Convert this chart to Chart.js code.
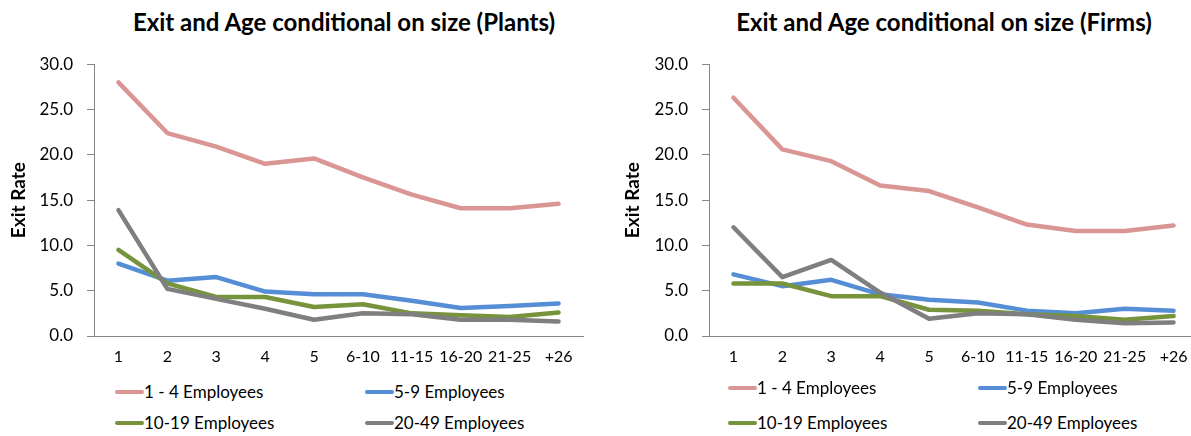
<!DOCTYPE html>
<html lang="en">
<head>
  <meta charset="UTF-8">
  <title>Exit and Age conditional on size</title>
  <script src="https://cdn.jsdelivr.net/npm/chart.js"></script>
  <style>
    html, body {
      margin: 0;
      padding: 0;
      background: #fff;
      width: 1191px;
      height: 436px;
      overflow: hidden;
      font-family: Lato, "Liberation Sans", sans-serif;
      color: #000;
    }
    .title {
      position: absolute;
      top: 0;
      height: 44px;
      line-height: 44px;
      font-weight: bold;
      font-size: 24px;
      white-space: nowrap;
      transform: translateX(-50%);
    }
    .box {
      position: absolute;
      top: 40px;
      height: 340px;
    }
    .legend-item {
      position: absolute;
      font-size: 17px;
      white-space: nowrap;
      line-height: 20px;
      transform: translateY(-50%);
      display: flex;
      align-items: center;
    }
    .legend-item i {
      display: inline-block;
      width: 29px;
      height: 4px;
      border-radius: 2px;
    }
  </style>
</head>
<body>
  <div class="title" style="left:344px">Exit and Age conditional on size (Plants)</div>
  <div class="title" style="left:944px">Exit and Age conditional on size (Firms)</div>

  <div class="box" style="left:0; width:600px"><canvas id="plantsChart"></canvas></div>
  <div class="box" style="left:600px; width:620px"><canvas id="firmsChart"></canvas></div>

  <div id="plantsLegend"></div>
  <div id="firmsLegend"></div>

  <script>
    // data
    const ageLabels = ['1', '2', '3', '4', '5', '6-10', '11-15', '16-20', '21-25', '+26'];
    const seriesNames = ['1 - 4 Employees', '5-9 Employees', '10-19 Employees', '20-49 Employees'];
    const seriesColors = ['#DA9694', '#558ED5', '#77933C', '#7F7F7F'];

    const plants1to4   = [28.0, 22.4, 20.9, 19.0, 19.6, 17.5, 15.6, 14.1, 14.1, 14.6];
    const plants5to9   = [8.0, 6.1, 6.5, 4.9, 4.6, 4.6, 3.9, 3.1, 3.3, 3.6];
    const plants10to19 = [9.5, 5.8, 4.3, 4.3, 3.2, 3.5, 2.5, 2.3, 2.1, 2.6];
    const plants20to49 = [13.9, 5.2, 4.1, 3.0, 1.8, 2.5, 2.4, 1.8, 1.8, 1.6];

    const firms1to4   = [26.3, 20.6, 19.3, 16.6, 16.0, 14.2, 12.3, 11.6, 11.6, 12.2];
    const firms5to9   = [6.8, 5.5, 6.2, 4.6, 4.0, 3.7, 2.8, 2.5, 3.0, 2.8];
    const firms10to19 = [5.8, 5.8, 4.4, 4.4, 2.9, 2.8, 2.4, 2.2, 1.8, 2.2];
    const firms20to49 = [12.0, 6.5, 8.4, 4.8, 1.9, 2.5, 2.4, 1.8, 1.4, 1.5];

    const yMin = 0, yMax = 30, yStep = 5;

    function makeChart(id, series, opts) {
      const datasets = series.map((vals, i) => ({
        label: seriesNames[i],
        data: vals,
        borderColor: seriesColors[i],
        backgroundColor: seriesColors[i],
        borderWidth: 4.5,
        pointRadius: 0,
        tension: 0,
        fill: false,
        borderCapStyle: 'round',
        borderJoinStyle: 'round',
        order: series.length - 1 - i
      }));
      return new Chart(document.getElementById(id), {
        type: 'line',
        data: { labels: ageLabels, datasets: datasets },
        options: {
          responsive: true,
          maintainAspectRatio: false,
          animation: false,
          layout: { padding: { top: 16, right: opts.padRight, left: 0, bottom: 0 } },
          plugins: { legend: { display: false }, tooltip: { enabled: false } },
          scales: {
            x: {
              offset: true,
              grid: { display: false, drawTicks: false },
              border: { display: true, color: '#868686', width: 1 },
              ticks: { color: '#000', padding: 11, maxRotation: 0, autoSkip: false,
                       font: { family: 'Lato', size: 16 } },
              afterFit: s => { s.height = 44; }
            },
            y: {
              min: yMin, max: yMax,
              grid: { drawOnChartArea: false, drawTicks: true, tickLength: 7, color: '#868686' },
              border: { display: true, color: '#868686', width: 1 },
              ticks: { stepSize: yStep, color: '#000', padding: 14,
                       font: { family: 'Lato', size: 17 },
                       callback: v => v.toFixed(1) },
              title: { display: true, text: 'Exit Rate', color: '#000',
                       font: { family: 'Lato', size: 19, weight: 'bold' },
                       padding: { top: opts.titlePad, bottom: 0 } },
              afterFit: s => { s.width = opts.axisLeft; }
            }
          }
        }
      });
    }

    function makeLegend(id, left, col2, rows) {
      const wrap = document.getElementById(id);
      seriesNames.forEach((name, i) => {
        const el = document.createElement('div');
        el.className = 'legend-item';
        el.style.left = (i % 2 === 0 ? left : col2) + 'px';
        el.style.top = rows[Math.floor(i / 2)] + 'px';
        el.innerHTML = '<i style="background:' + seriesColors[i] + '"></i>' + name;
        wrap.appendChild(el);
      });
    }

    makeChart('plantsChart', [plants1to4, plants5to9, plants10to19, plants20to49],
      { axisLeft: 94, padRight: 17, titlePad: 7 });
    makeChart('firmsChart', [firms1to4, firms5to9, firms10to19, firms20to49],
      { axisLeft: 109, padRight: 22, titlePad: 21 });

    makeLegend('plantsLegend', 115, 365, [392, 423]);
    makeLegend('firmsLegend', 728, 978, [388, 423]);
  </script>
</body>
</html>
